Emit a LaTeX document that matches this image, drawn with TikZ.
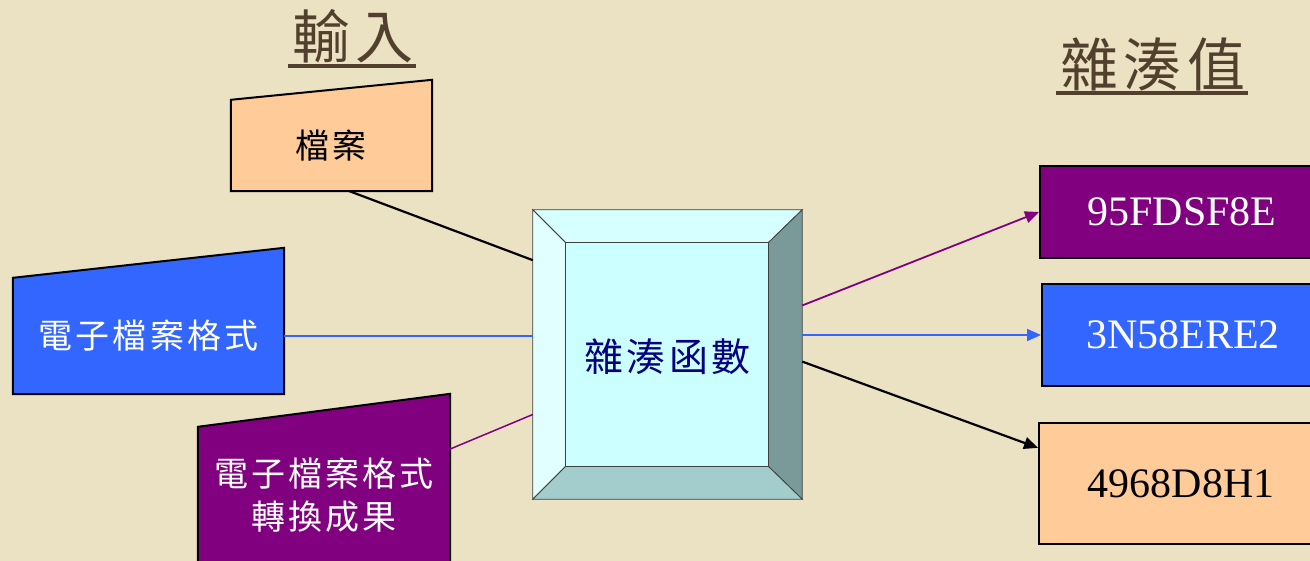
\documentclass[tikz,border=0pt]{standalone}
\usepackage{fontspec}
\setmainfont{Liberation Serif}
\newfontfamily\cjk[LetterSpace=9]{Noto Sans CJK TC}
\usepackage{tikz}
\usetikzlibrary{arrows.meta, calc, backgrounds, positioning}
\definecolor{paper}{RGB}{235,225,195}
\definecolor{brownink}{RGB}{82,64,46}
\definecolor{peach}{RGB}{255,204,153}
\definecolor{royal}{RGB}{51,102,255}
\definecolor{plum}{RGB}{128,0,128}
\definecolor{icecyan}{RGB}{204,255,255}
\definecolor{icetop}{RGB}{214,255,255}
\definecolor{icelight}{RGB}{226,255,255}
\definecolor{iceside}{RGB}{122,153,153}
\definecolor{icebase}{RGB}{163,204,204}
\definecolor{navyink}{RGB}{0,0,128}
\tikzset{>={Triangle[length=14pt,width=12pt]}}

\begin{document}
\begin{tikzpicture}[x=1pt, y=-1pt,
  headtext/.style={text=brownink, font=\cjk\fontsize{58}{62}\selectfont, inner sep=0pt},
  headline/.style={draw=brownink, line width=3.5pt},
  inbox/.style={inner sep=0pt, align=center, font=\cjk\fontsize{34}{43}\selectfont},
  inshape/.style={draw=black, line width=2pt},
  outbox/.style={draw=black, line width=2pt, inner sep=0pt, font=\fontsize{42}{48}\selectfont},
  bevelface/.style={draw=black!75, line width=0.8pt},
  wire/.style={line width=2.2pt}]

\useasboundingbox (0,0) rectangle (1310,560);

% titles
\node (intitle) [headtext] at (353,36) {輸入};
\node (outtitle) [headtext] at (1153,64) {雜湊值};
\draw[headline] ($(intitle.center)+(-65,30)$) -- ($(intitle.center)+(63,30)$);
\draw[headline] ($(outtitle.center)+(-97,29)$) -- ($(outtitle.center)+(95,29)$);

% inputs
\node (file) [inbox, minimum width=201pt, minimum height=91pt] at (331.5,145.5) {檔案};
\node (elec) [inbox, text=white, minimum width=271pt, minimum height=116pt] at (148.5,336) {電子檔案格式};
\node (conv) [inbox, text=white, minimum width=252pt, minimum height=136pt] at (324,495) {電子檔案格式\\轉換成果};

% hash function
\node (hash) [minimum width=269pt, minimum height=289pt, inner sep=0pt] at (667.5,354.5) {};
\node (hashname) [text=navyink, inner sep=0pt, font=\cjk\fontsize{39}{42}\selectfont] at ($(hash.center)+(0,2)$) {雜湊函數};
\coordinate (ia) at ($(hash.north west)+(33,33)$);
\coordinate (ib) at ($(hash.north east)+(-34,33)$);
\coordinate (ic) at ($(hash.south east)+(-34,-33)$);
\coordinate (id) at ($(hash.south west)+(33,-33)$);

% hash values
\node (val1) [outbox, fill=plum, text=white, minimum width=284pt, minimum height=92pt] at (1182,212) {95FDSF8E};
\node (val2) [outbox, fill=royal, text=white, minimum width=282pt, minimum height=102pt] at (1183,335) {3N58ERE2};
\node (val3) [outbox, fill=peach, minimum width=284pt, minimum height=121pt] at (1181,483.5) {4968D8H1};

\draw[wire] ($(file.south)+(18,0)$) -- (hash.145);
\draw[wire, royal, line width=1.5pt] (elec.east) -- (elec.east -| hash.west);
\draw[wire, plum, line width=1.5pt] ($(conv.east)+(0,-46)$) -- (hash.204);
\draw[->, wire, plum, line width=1.8pt] (hash.20) -- (val1.west);
\draw[->, wire, royal, line width=1.8pt] (hash.east |- val2.west) -- (val2.west);
\draw[->, wire] (hash.357) -- (val3.166);

\begin{scope}[on background layer]
\fill[paper] (-5,-5) rectangle (1315,565);
\filldraw[fill=peach, inshape] (file.south west) -- (file.north west) -- ($(file.north east)+(0,-20)$) -- (file.south east) -- cycle;
\filldraw[fill=royal, inshape] (elec.south west) -- (elec.north west) -- ($(elec.north east)+(0,-30)$) -- (elec.south east) -- cycle;
\filldraw[fill=plum, inshape] (conv.south west) -- (conv.north west) -- ($(conv.north east)+(0,-33)$) -- (conv.south east) -- cycle;
\filldraw[fill=icetop, bevelface] (hash.north west) -- (hash.north east) -- (ib) -- (ia) -- cycle;
\filldraw[fill=icelight, bevelface] (hash.north west) -- (ia) -- (id) -- (hash.south west) -- cycle;
\filldraw[fill=iceside, bevelface] (hash.north east) -- (hash.south east) -- (ic) -- (ib) -- cycle;
\filldraw[fill=icebase, bevelface] (hash.south west) -- (id) -- (ic) -- (hash.south east) -- cycle;
\filldraw[fill=icecyan, bevelface] (ia) rectangle (ic);
\end{scope}

\end{tikzpicture}
\end{document}
